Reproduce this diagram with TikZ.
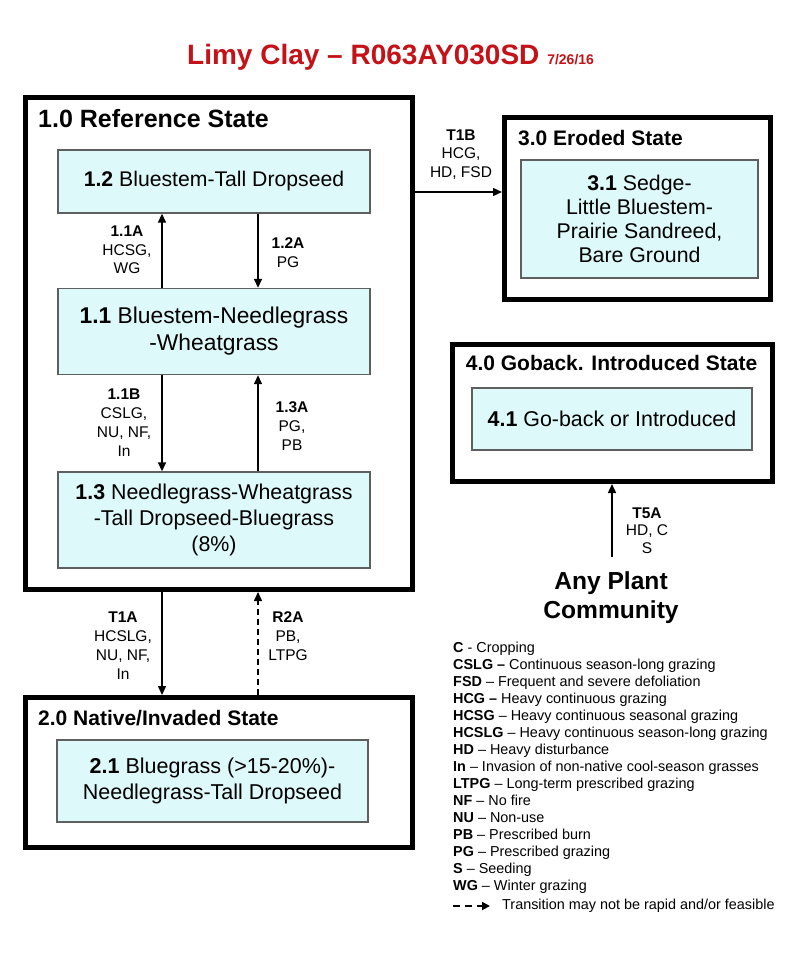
\documentclass[tikz,border=0pt]{standalone}
\usepackage{fontspec}
\setmainfont{Liberation Sans}
\usetikzlibrary{arrows.meta}
\definecolor{boxfill}{RGB}{222,249,249}
\definecolor{boxline}{RGB}{95,95,95}
\definecolor{titlered}{RGB}{196,18,24}
\tikzset{
  x=1pt,y=-1pt,
  statebox/.style={draw=black,line width=5pt,inner sep=0pt},
  commbox/.style={draw=boxline,fill=boxfill,line width=1.4pt,inner sep=0pt,align=center},
  arr/.style={line width=1.5pt,-{Triangle[length=9pt,width=8pt]}},
  lbl/.style={align=center,font=\fontsize{15.5}{19}\selectfont,inner sep=0pt},
  sttitle/.style={anchor=west,inner sep=0pt,font=\bfseries\fontsize{21}{24}\selectfont},
}
\begin{document}
\begin{tikzpicture}
\useasboundingbox (0,0) rectangle (800,961);
% title
\node[inner sep=0pt,text=titlered,anchor=west] (title) at (187,57)
  {\bfseries\fontsize{28}{32}\selectfont Limy Clay – R063AY030SD\ \fontsize{14}{16}\selectfont 7/26/16};

% State 1.0
\node[statebox,minimum width=387pt,minimum height=492pt] (b10) at (219,343.5) {};
\node[sttitle,font=\bfseries\fontsize{25}{28}\selectfont] (t10) at (38,119) {1.0 Reference State};
\node[commbox,font=\fontsize{21.2}{26}\selectfont,minimum width=312pt,minimum height=63pt] (b12) at (214,181.5) {\textbf{1.2} Bluestem-Tall Dropseed};
\node[commbox,font=\fontsize{22.8}{27}\selectfont,minimum width=312pt,minimum height=86pt] (b11) at (214,331.5) {\textbf{1.1} Bluestem-Needlegrass\\-Wheatgrass};
\node[commbox,font=\fontsize{21.4}{26}\selectfont,minimum width=312pt,minimum height=96pt] (b13) at (214,520) {\textbf{1.3} Needlegrass-Wheatgrass\\-Tall Dropseed-Bluegrass\\(8\%)};

\draw[arr] ([xshift=-52pt]b11.north) -- ([xshift=-52pt]b12.south);
\draw[arr] ([xshift=44pt]b12.south) -- ([xshift=44pt]b11.north);
\draw[arr] ([xshift=-52pt]b11.south) -- ([xshift=-52pt]b13.north);
\draw[arr] ([xshift=44pt]b13.north) -- ([xshift=44pt]b11.south);

\node[lbl,font=\fontsize{15.5}{18.5}\selectfont] (l11a) at (127,250) {\textbf{1.1A}\\HCSG,\\WG};
\node[lbl,font=\fontsize{15.5}{18.5}\selectfont] (l12a) at (288,252.5) {\textbf{1.2A}\\PG};
\node[lbl] (l11b) at (124,422.5) {\textbf{1.1B}\\CSLG,\\NU, NF,\\In};
\node[lbl] (l13a) at (292,426) {\textbf{1.3A}\\PG,\\PB};

% State 2.0
\node[statebox,minimum width=387pt,minimum height=150pt] (b20) at (219,772.5) {};
\node[sttitle] (t20) at (38,718) {2.0 Native/Invaded State};
\node[commbox,font=\fontsize{21.5}{26}\selectfont,minimum width=311pt,minimum height=82pt] (b21) at (212.5,781) {\textbf{2.1} Bluegrass (>15-20\%)-\\Needlegrass-Tall Dropseed};

\draw[arr] ([xshift=-57pt]b10.south) -- ([xshift=-57pt]b20.north);
\draw[arr,dash pattern=on 6pt off 4pt] ([xshift=39pt]b20.north) -- ([xshift=39pt]b10.south);
\node[lbl] (lt1a) at (123,645.5) {\textbf{T1A}\\HCSLG,\\NU, NF,\\In};
\node[lbl] (lr2a) at (288,636) {\textbf{R2A}\\PB,\\LTPG};

% State 3.0
\node[statebox,minimum width=266pt,minimum height=182pt] (b30) at (637.5,208.5) {};
\node[sttitle] (t30) at (518,138) {3.0 Eroded State};
\node[commbox,font=\fontsize{21.3}{23.8}\selectfont,minimum width=237pt,minimum height=118pt] (b31) at (639.5,219) {\textbf{3.1} Sedge-\\Little Bluestem-\\Prairie Sandreed,\\Bare Ground};

\coordinate (t1bs) at ([yshift=151.5pt]b10.east);
\draw[arr] (t1bs) -- (t1bs -| b30.west);
\node[lbl,font=\fontsize{15.5}{18.5}\selectfont] (lt1b) at (461,154.5) {\textbf{T1B}\\HCG,\\HD, FSD};

% State 4.0
\node[statebox,minimum width=320pt,minimum height=137pt] (b40) at (612.5,413) {};
\node[inner sep=0pt,font=\bfseries\fontsize{21}{24}\selectfont] (t40) at (611.5,363) {4.0 Goback. Introduced State};
\node[commbox,font=\fontsize{21.4}{26}\selectfont,minimum width=280pt,minimum height=62pt] (b41) at (612,419) {\textbf{4.1} Go-back or Introduced};

\node[align=center,inner sep=0pt,font=\bfseries\fontsize{24.6}{29}\selectfont] (apc) at (611,597.5) {Any Plant\\Community};
\coordinate (t5as) at (612,557);
\draw[arr] (t5as) -- (t5as |- b40.south);
\node[lbl,font=\fontsize{15.5}{17.5}\selectfont] (lt5a) at (647,530.5) {\textbf{T5A}\\HD, C\\S};

% Legend
\node[anchor=north west,align=left,inner sep=0pt,font=\fontsize{14.4}{17}\selectfont] (leg) at (453,641.5) {%
\textbf{C} - Cropping\\
\textbf{CSLG –} Continuous season-long grazing\\
\textbf{FSD} – Frequent and severe defoliation\\
\textbf{HCG –} Heavy continuous grazing\\
\textbf{HCSG} – Heavy continuous seasonal grazing\\
\textbf{HCSLG} – Heavy continuous season-long grazing\\
\textbf{HD} – Heavy disturbance\\
\textbf{In} – Invasion of non-native cool-season grasses\\
\textbf{LTPG} – Long-term prescribed grazing\\
\textbf{NF} – No fire\\
\textbf{NU} – Non-use\\
\textbf{PB} – Prescribed burn\\
\textbf{PG} – Prescribed grazing\\
\textbf{S} – Seeding\\
\textbf{WG} – Winter grazing};
\node[anchor=west,inner sep=0pt,font=\fontsize{14.4}{17}\selectfont] (legdash) at (502,906) {Transition may not be rapid and/or feasible};
\coordinate (legds) at (453,906);
\draw[line width=1.8pt,dash pattern=on 7pt off 5pt,-{Triangle[length=8pt,width=8pt]}] (legds) -- ([xshift=-12pt]legdash.west);
\end{tikzpicture}
\end{document}
